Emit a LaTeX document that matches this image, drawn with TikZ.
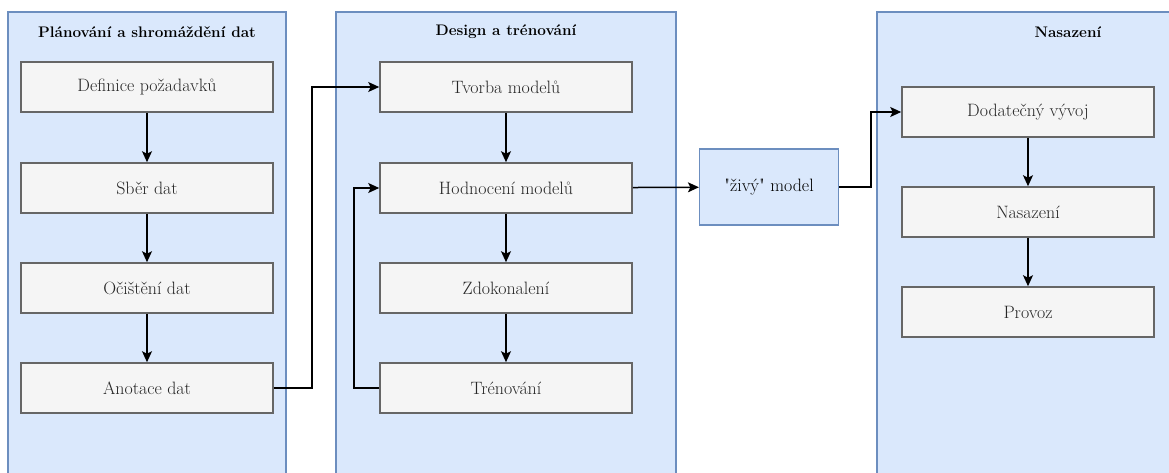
\documentclass[tikz,border=0pt]{standalone}
\usepackage{fontspec}
\usetikzlibrary{arrows.meta}

\definecolor{panelfill}{HTML}{DAE8FC}
\definecolor{paneledge}{HTML}{6C8EBF}
\definecolor{stepfill}{HTML}{F5F5F5}
\definecolor{stepedge}{HTML}{666666}
\definecolor{steptext}{HTML}{262626}

\tikzset{
  panel/.style={fill=panelfill, draw=paneledge, line width=1.2pt},
  title/.style={font=\fontsize{15.3}{18}\selectfont\bfseries},
  stepbox/.style={rectangle, fill=stepfill, draw=stepedge, line width=1.6pt,
    minimum width=252pt, minimum height=50pt, text=steptext,
    font=\fontsize{17.9}{21}\selectfont},
  livebox/.style={rectangle, fill=panelfill, draw=paneledge, line width=1.2pt,
    minimum width=139pt, minimum height=76pt,
    font=\fontsize{17.9}{21}\selectfont},
  flow/.style={line width=1.5pt, -{Stealth[length=11pt,width=10pt,inset=2.5pt]}}
}

\begin{document}
\begin{tikzpicture}[x=1pt, y=-1pt]
    \clip (0,0) rectangle (1169,473);
    \fill[white] (0,0) rectangle (1169,473);

    % panels
    \draw[panel] (8,12) rectangle (286,490);
    \draw[panel] (336,12) rectangle (676,490);
    \draw[panel] (877,12) rectangle (1260,490);
    \node[title] at (147, 32)(t1){Plánování a shromáždění dat};
    \node[title] at (506, 32)(t2){Design a trénování};
    \node[title] at (1068, 32)(t3){Nasazení};

    % planning
    \node[stepbox] at (147, 87)(definice){Definice požadavků};
    \node[stepbox] at (147, 188)(sber){Sběr dat};
    \node[stepbox] at (147, 288)(cisteni){Očištění dat};
    \node[stepbox] at (147, 388)(anotace){Anotace dat};

    % design
    \node[stepbox] at (506, 87)(tvorba){Tvorba modelů};
    \node[stepbox] at (506, 188)(hodnoceni){Hodnocení modelů};
    \node[stepbox] at (506, 288)(zdokonaleni){Zdokonalení};
    \node[stepbox] at (506, 388)(trenovani){Trénování};

    \node[livebox] at (769, 187)(zivy){\textquotedbl živý\textquotedbl{} model};

    % deployment
    \node[stepbox] at (1028, 112)(dodatecny){Dodatečný vývoj};
    \node[stepbox] at (1028, 212)(nasazeni){Nasazení};
    \node[stepbox] at (1028, 312)(provoz){Provoz};

    \path[flow]
        (definice) edge (sber)
        (sber) edge (cisteni)
        (cisteni) edge (anotace)
        (tvorba) edge (hodnoceni)
        (hodnoceni) edge (zdokonaleni)
        (zdokonaleni) edge (trenovani)
        (hodnoceni) edge (zivy)
        (dodatecny) edge (nasazeni)
        (nasazeni) edge (provoz)
        ;
    \draw[flow] (anotace.east) -- ++(38,0) |- (tvorba.west);
    \draw[flow] (trenovani.west) -- ++(-25,0) |- (hodnoceni.west);
    \draw[flow] (zivy.east) -- ++(32,0) |- (dodatecny.west);
\end{tikzpicture}
\end{document}
